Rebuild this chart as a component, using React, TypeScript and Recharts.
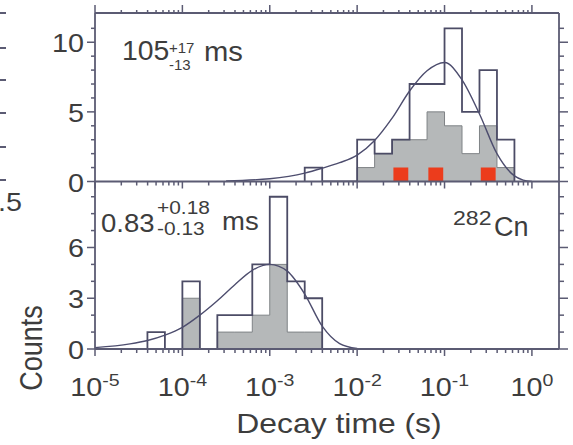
import React from 'react';
import { ComposedChart, Area, Line, XAxis, YAxis } from 'recharts';

// histogram bins are 0.2 decade wide, x values are log10(t / s)
const BIN = 0.2;

const topBins = [-2.6, -2.4, -2.2, -2.0, -1.8, -1.6, -1.4, -1.2, -1.0, -0.8, -0.6, -0.4];
const topOpen = [1, 0, 0, 3, 2, 3, 7, 7, 11, 5, 8, 3];
const topGray = [0, 0, 0, 1, 2, 3, 3, 5, 4, 2, 4, 1];
const topRedBins = [-1.6, -1.2, -0.6];
const topRedCount = 1;
const topCurveX = [-3.5, -3.0, -2.6, -2.4, -2.2, -2.0, -1.8, -1.6, -1.4, -1.2, -1.0, -0.8, -0.6, -0.4, -0.2, -0.1, 0.0];
const topCurveY = [0.04, 0.2, 0.6, 0.95, 1.35, 1.9, 2.95, 4.55, 6.5, 7.95, 8.55, 7.3, 4.85, 2.0, 0.4, 0.1, 0.0];

const botBins = [-4.4, -4.2, -4.0, -3.8, -3.6, -3.4, -3.2, -3.0, -2.8, -2.6];
const botOpen = [1, 0, 4, 0, 2, 2, 5, 9, 4, 3];
const botGray = [0, 0, 3, 0, 1, 1, 2, 5, 1, 1];
const botCurveX = [-5.0, -4.6, -4.4, -4.2, -4.0, -3.8, -3.6, -3.4, -3.2, -3.0, -2.8, -2.6, -2.4, -2.2, -2.0];
const botCurveY = [0.08, 0.3, 0.5, 0.82, 1.28, 2.0, 2.85, 3.8, 4.65, 5.0, 4.6, 3.25, 1.35, 0.32, 0.03];

const decades = [-5, -4, -3, -2, -1, 0];
const minorMult = [2, 3, 4, 5, 6, 7, 8, 9];
const topYTicks = [0, 1, 2, 3, 4, 5, 6, 7, 8, 9, 10, 11];
const topYMajor = [0, 5, 10];
const botYTicks = [0, 1, 2, 3, 4, 5, 6, 7, 8, 9];
const botYMajor = [0, 3, 6];
const leftStubY = [13, 48, 80, 113, 147, 180];

const AXIS = '#5b5b73';
const HIST = '#4c4c66';
const GRAY_FILL = '#b5b8b9';
const GRAY_EDGE = '#7f8386';
const CURVE = '#4d4d6e';
const RED = '#ec3c1c';
const TEXT = '#3d3d3d';
const FONT = '"Liberation Sans", Arial, sans-serif';

const xTicks = [
  ...decades,
  ...decades.slice(0, -1).flatMap((d) => minorMult.map((k) => d + Math.log10(k))),
].sort((a, b) => a - b);

const steps = (starts: number[], counts: number[]) => {
  const pts = [{ x: starts[0], y: 0 }];
  starts.forEach((s, i) => pts.push({ x: s, y: counts[i] }));
  pts.push({ x: starts[starts.length - 1] + BIN, y: 0 });
  return pts;
};

const squares = (starts: number[], h: number, inset: number) => {
  const pts: { x: number; y: number }[] = [];
  starts.forEach((s) => {
    pts.push({ x: s + inset, y: 0 }, { x: s + inset, y: h }, { x: s + BIN - inset, y: 0 });
  });
  return pts;
};

const curve = (xs: number[], ys: number[]) => xs.map((x, i) => ({ x, y: ys[i] }));

const isMajor = (v: number) => Math.abs(v - Math.round(v)) < 1e-6;

const BottomTick = ({ x, y, payload, label }: any) => {
  const v = payload.value;
  const major = isMajor(v);
  return (
    <g>
      <line x1={x} y1={y} x2={x} y2={y + (major ? 7 : 4)} stroke={AXIS} strokeWidth={1.5} />
      {label && major && (
        <g transform={`translate(${x},${y + 47}) scale(1.15,1)`}>
          <text textAnchor="middle" fontSize={25} fill={TEXT} fontFamily={FONT}>
            10<tspan dy={-10} fontSize={17}>{Math.round(v)}</tspan>
          </text>
        </g>
      )}
    </g>
  );
};

const TopTick = ({ x, y, payload }: any) => {
  const major = isMajor(payload.value);
  return <line x1={x} y1={y} x2={x} y2={y - (major ? 8 : 3)} stroke={AXIS} strokeWidth={1.5} />;
};

const LeftTick = ({ x, y, payload, majors }: any) => {
  const major = majors.includes(payload.value);
  return (
    <g>
      <line x1={x} y1={y} x2={x - (major ? 8 : 4)} y2={y} stroke={AXIS} strokeWidth={1.5} />
      {major && (
        <g transform={`translate(${x - 11},${y + 10}) scale(1.15,1)`}>
          <text textAnchor="end" fontSize={25} fill={TEXT} fontFamily={FONT}>
            {payload.value}
          </text>
        </g>
      )}
    </g>
  );
};

const RightTick = ({ x, y, payload, majors }: any) => {
  const major = majors.includes(payload.value);
  return <line x1={x} y1={y} x2={x + (major ? 9 : 5)} y2={y} stroke={AXIS} strokeWidth={1.5} />;
};

const axisLine = { stroke: AXIS, strokeWidth: 1.8 };

function Panel({ top, bottom, yMax, yTicks, yMajor, open, gray, red, fit, labels, topAxis }: any) {
  return (
    <div style={{ position: 'absolute', left: 0, top: 0 }}>
      <ComposedChart
        width={573}
        height={445}
        margin={{ top: top - (topAxis ? 1 : 0), right: 13, bottom: 445 - bottom - 1, left: 94 }}
      >
        <XAxis
          dataKey="x"
          type="number"
          domain={[-5, 0.31]}
          allowDataOverflow
          ticks={xTicks}
          interval={0}
          height={1}
          tickSize={0}
          tickMargin={0}
          tickLine={false}
          axisLine={axisLine}
          tick={(p: any) => <BottomTick {...p} label={labels} />}
        />
        {topAxis && (
          <XAxis
            xAxisId="t"
            orientation="top"
            dataKey="x"
            type="number"
            domain={[-5, 0.31]}
            allowDataOverflow
            ticks={xTicks}
            interval={0}
            height={1}
            tickSize={0}
            tickMargin={0}
            tickLine={false}
            axisLine={axisLine}
            tick={(p: any) => <TopTick {...p} />}
          />
        )}
        <YAxis
          type="number"
          domain={[0, yMax]}
          allowDataOverflow
          ticks={yTicks}
          interval={0}
          width={1}
          tickSize={0}
          tickMargin={0}
          tickLine={false}
          axisLine={axisLine}
          tick={(p: any) => <LeftTick {...p} majors={yMajor} />}
        />
        <YAxis
          yAxisId="r"
          orientation="right"
          type="number"
          domain={[0, yMax]}
          allowDataOverflow
          ticks={yTicks}
          interval={0}
          width={1}
          tickSize={0}
          tickMargin={0}
          tickLine={false}
          axisLine={axisLine}
          tick={(p: any) => <RightTick {...p} majors={yMajor} />}
        />
        <Area
          data={gray}
          dataKey="y"
          type="stepAfter"
          fill={GRAY_FILL}
          fillOpacity={1}
          stroke={GRAY_EDGE}
          strokeWidth={1}
          isAnimationActive={false}
          dot={false}
          activeDot={false}
        />
        {red && (
          <Area
            data={red}
            dataKey="y"
            type="stepAfter"
            fill={RED}
            fillOpacity={1}
            stroke="none"
            isAnimationActive={false}
            dot={false}
            activeDot={false}
          />
        )}
        <Area
          data={open}
          dataKey="y"
          type="stepAfter"
          fill="none"
          stroke={HIST}
          strokeWidth={1.8}
          isAnimationActive={false}
          dot={false}
          activeDot={false}
        />
        <Line
          data={fit}
          dataKey="y"
          type="monotone"
          stroke={CURVE}
          strokeWidth={1.4}
          dot={false}
          activeDot={false}
          isAnimationActive={false}
        />
      </ComposedChart>
    </div>
  );
}

export default function App() {
  return (
    <div
      style={{
        position: 'absolute',
        left: 0,
        top: 0,
        width: 573,
        height: 445,
        background: '#fff',
        overflow: 'hidden',
        fontFamily: FONT,
      }}
    >
      <Panel
        top={181.5}
        bottom={349}
        yMax={9.9}
        yTicks={botYTicks}
        yMajor={botYMajor}
        open={steps(botBins, botOpen)}
        gray={steps(botBins, botGray)}
        fit={curve(botCurveX, botCurveY)}
        labels
      />
      <Panel
        top={13}
        bottom={181.5}
        yMax={12.1}
        yTicks={topYTicks}
        yMajor={topYMajor}
        open={steps(topBins, topOpen)}
        gray={steps(topBins, topGray)}
        red={squares(topRedBins, topRedCount, 0.015)}
        fit={curve(topCurveX, topCurveY)}
        topAxis
      />
      <svg
        width={573}
        height={445}
        style={{ position: 'absolute', left: 0, top: 0, pointerEvents: 'none' }}
        fontFamily={FONT}
        fill={TEXT}
      >
        {leftStubY.map((y) => (
          <line key={y} x1={0} x2={6} y1={y} y2={y} stroke={AXIS} strokeWidth={2} />
        ))}
        <g transform="translate(22,211) scale(1.15,1)">
          <text textAnchor="end" fontSize={25}>1.5</text>
        </g>

        <g transform="translate(122,60) scale(1.05,1)">
          <text fontSize={27}>105</text>
        </g>
        <text x={169} y={53} fontSize={15}>+17</text>
        <text x={169} y={70} fontSize={15}>-13</text>
        <g transform="translate(204,61) scale(1.08,1)">
          <text fontSize={27}>ms</text>
        </g>

        <g transform="translate(101,232) scale(1.1,1)">
          <text fontSize={25}>0.83</text>
        </g>
        <g transform="translate(157,214) scale(1.1,1)">
          <text fontSize={19}>+0.18</text>
        </g>
        <g transform="translate(157,235) scale(1.1,1)">
          <text fontSize={19}>-0.13</text>
        </g>
        <g transform="translate(222,230) scale(1.1,1)">
          <text fontSize={25}>ms</text>
        </g>

        <g transform="translate(453,225) scale(1.1,1)">
          <text fontSize={21}>282</text>
        </g>
        <text x={494} y={236} fontSize={27}>Cn</text>

        <g transform="translate(339,433) scale(1.18,1)">
          <text textAnchor="middle" fontSize={27}>Decay time (s)</text>
        </g>
        <g transform="translate(42,348) scale(1.15,1) rotate(-90)">
          <text textAnchor="middle" fontSize={27}>Counts</text>
        </g>
      </svg>
    </div>
  );
}
